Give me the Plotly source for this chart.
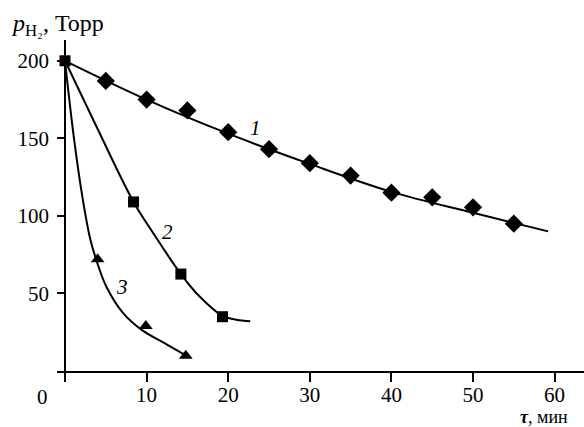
import plotly.graph_objects as go

# ---- data ----
t1 = [5, 10, 15, 20, 25, 30, 35, 40, 45, 50, 55]
p1 = [187, 175, 168, 154, 143, 134, 126, 115, 112, 105.5, 95]
curve1_t = [0, 10, 20, 30, 40, 50, 59.2]
curve1_p = [200, 175, 153, 133.5, 115.5, 102, 90]

t2 = [0, 8.4, 14.2, 19.3]
p2 = [200, 109, 62.5, 35]
curve2_t = [0, 4, 8.4, 10.8, 14.2, 16.5, 19.3, 21, 22.7]
curve2_p = [200, 156, 109, 89, 62.5, 48, 35.5, 33, 32]

t3 = [4.0, 9.9, 14.8]
p3 = [72, 29, 9.9]
curve3_t = [0, 1.1, 2.2, 3.1, 4.0, 5.1, 7.1, 9.4, 12.5, 14.8]
curve3_p = [200, 150, 110, 85, 69, 54, 37.5, 26.5, 17, 10]

x_tickvals = [0, 10, 20, 30, 40, 50, 60]
x_ticktext = ["", "10", "20", "30", "40", "50", "60"]
y_tickvals = [50, 100, 150, 200]
y_ticktext = ["50", "100", "150", "200"]

curve_labels = ["1", "2", "3"]
curve_label_t = [23.3, 12.5, 6.95]
curve_label_p = [156.7, 89.8, 54.4]

FONT = "Liberation Serif, DejaVu Serif, serif"
FS = 21

fig = go.Figure()
line_style = dict(color="black", width=2, shape="spline", smoothing=1.0)
for ct, cp in [(curve1_t, curve1_p), (curve2_t, curve2_p), (curve3_t, curve3_p)]:
    fig.add_trace(go.Scatter(x=ct, y=cp, mode="lines", line=line_style,
                             hoverinfo="skip", showlegend=False))

fig.add_trace(go.Scatter(x=t1, y=p1, mode="markers",
                         marker=dict(symbol="diamond", size=14, color="black"),
                         showlegend=False))
fig.add_trace(go.Scatter(x=t2, y=p2, mode="markers",
                         marker=dict(symbol="square", size=11, color="black"),
                         showlegend=False))
fig.add_trace(go.Scatter(x=t3, y=p3, mode="markers",
                         marker=dict(symbol="triangle-up", size=12, color="black"),
                         showlegend=False))

for lab, lx, ly in zip(curve_labels, curve_label_t, curve_label_p):
    fig.add_annotation(x=lx, y=ly, text="<i>" + lab + "</i>", showarrow=False,
                       font=dict(family=FONT, size=FS, color="black"))

fig.add_annotation(xref="paper", yref="paper", x=-0.091, y=1.045,
                   xanchor="left", yanchor="middle", showarrow=False,
                   text="<i>p</i><sub>H₂</sub>, Торр",
                   font=dict(family=FONT, size=24, color="black"))
fig.add_annotation(xref="paper", yref="paper", x=-0.0271, y=-0.0785,
                   xanchor="center", yanchor="middle", showarrow=False,
                   text="0", font=dict(family=FONT, size=FS, color="black"))
fig.add_annotation(xref="paper", yref="paper", x=0.875, y=-0.139,
                   xanchor="left", yanchor="middle", showarrow=False,
                   text="<b><i>τ</i></b>, мин",
                   font=dict(family=FONT, size=18, color="black"))

fig.update_layout(
    width=584, height=427,
    margin=dict(l=57, r=0, t=40, b=56),
    paper_bgcolor="white", plot_bgcolor="white",
    font=dict(family=FONT, size=FS, color="black"),
    xaxis=dict(range=[-0.98, 63.6], showgrid=False, showline=True,
               linecolor="black", linewidth=2, ticks="outside", ticklen=9,
               tickwidth=1.5, tickcolor="black", ticklabelstandoff=-5,
               tickvals=x_tickvals, ticktext=x_ticktext,
               zeroline=True, zerolinecolor="black", zerolinewidth=2),
    yaxis=dict(range=[0, 213.4], showgrid=False, showline=False,
               zeroline=False, ticks="inside", ticklen=8, tickwidth=1.5,
               tickcolor="black", ticklabelstandoff=7,
               tickvals=y_tickvals, ticktext=y_ticktext),
)

fig.write_html("out.html", config={"displayModeBar": False},
               post_script="document.body.style.margin='0';")
